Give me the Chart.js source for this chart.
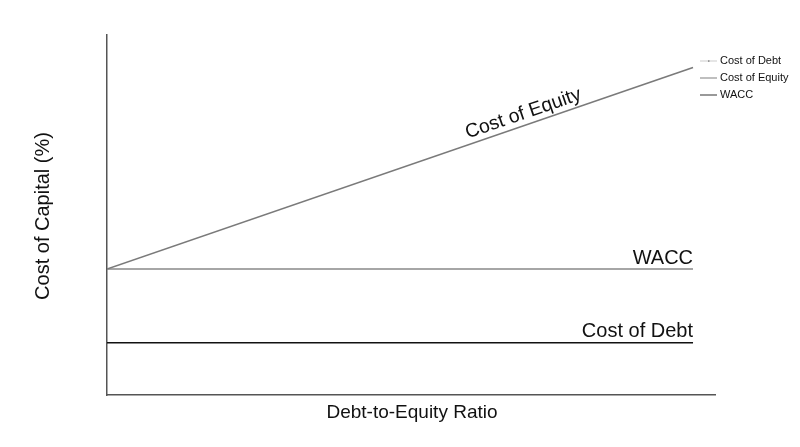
<!DOCTYPE html>
<html>
<head>
<meta charset="utf-8">
<script src="https://cdn.jsdelivr.net/npm/chart.js@4"></script>
<style>
  html, body { margin: 0; padding: 0; background: #fff; }
  #wrap { width: 800px; height: 447px; }
</style>
</head>
<body>
<div id="wrap"><canvas id="c"></canvas></div>
<script>
// Data
const debtToEquity = [0, 2];
const costOfDebt = [2.9, 2.9];
const costOfEquity = [7.0, 18.2];
const wacc = [7.0, 7.0];
const xMax = 2.075;
const yMax = 20;
const seriesNames = ['Cost of Debt', 'Cost of Equity', 'WACC'];

const FONT = '"Liberation Sans", Arial, sans-serif';

const pts = (ys) => debtToEquity.map((x, i) => ({ x: x, y: ys[i] }));

const annotate = {
  id: 'annotate',
  afterDatasetsDraw(chart) {
    const { ctx, scales: { x, y }, chartArea } = chart;
    ctx.save();
    ctx.fillStyle = '#111';
    ctx.font = '20px ' + FONT;
    ctx.textAlign = 'right';
    ctx.textBaseline = 'alphabetic';
    const xe = x.getPixelForValue(debtToEquity[debtToEquity.length - 1]);
    ctx.fillText('WACC', xe, y.getPixelForValue(wacc[1]) - 5);
    ctx.fillText('Cost of Debt', xe, y.getPixelForValue(costOfDebt[1]) - 6);
    // Cost of Equity label along line
    const x0 = x.getPixelForValue(debtToEquity[0]), y0 = y.getPixelForValue(costOfEquity[0]);
    const x1 = x.getPixelForValue(debtToEquity[1]), y1 = y.getPixelForValue(costOfEquity[1]);
    const ang = Math.atan2(y1 - y0, x1 - x0);
    const cx = 527;
    const t = (cx - x0) / (x1 - x0);
    const cy = y0 + t * (y1 - y0);
    ctx.translate(cx, cy);
    ctx.rotate(ang);
    ctx.textAlign = 'center';
    ctx.font = '19.5px ' + FONT;
    ctx.fillText('Cost of Equity', 0, -6);
    ctx.restore();

    // Axis titles
    ctx.save();
    ctx.fillStyle = '#111';
    ctx.font = '19px ' + FONT;
    ctx.textAlign = 'center';
    ctx.textBaseline = 'middle';
    ctx.fillText('Debt-to-Equity Ratio', 412, 413);
    ctx.translate(43, 216);
    ctx.rotate(-Math.PI / 2);
    ctx.font = '20px ' + FONT;
    ctx.fillText('Cost of Capital (%)', 0, 0);
    ctx.restore();

    // Legend
    ctx.save();
    ctx.font = '11px ' + FONT;
    ctx.textAlign = 'left';
    ctx.textBaseline = 'middle';
    const lx = 700, ly = [61, 78, 95];
    const legColors = ['#dcdcdc', '#aaaaaa', '#777777'];
    seriesNames.forEach((n, i) => {
      ctx.strokeStyle = legColors[i];
      ctx.lineWidth = 1.5;
      ctx.beginPath();
      ctx.moveTo(lx, ly[i]);
      ctx.lineTo(lx + 17, ly[i]);
      ctx.stroke();
      if (i === 0) {
        ctx.fillStyle = '#888';
        ctx.fillRect(lx + 8, ly[i] - 0.7, 1.5, 1.5);
      }
      ctx.fillStyle = '#111';
      ctx.fillText(n, lx + 20, ly[i]);
    });
    ctx.restore();
  }
};

new Chart(document.getElementById('c'), {
  type: 'line',
  data: {
    datasets: [
      { label: seriesNames[0], data: pts(costOfDebt), borderColor: '#111111', borderWidth: 1.6, pointRadius: 0, fill: false },
      { label: seriesNames[1], data: pts(costOfEquity), borderColor: '#7a7a7a', borderWidth: 1.6, pointRadius: 0, fill: false },
      { label: seriesNames[2], data: pts(wacc), borderColor: '#888888', borderWidth: 1.6, pointRadius: 0, fill: false }
    ]
  },
  options: {
    responsive: true,
    maintainAspectRatio: false,
    animation: false,
    layout: { padding: { left: 107, right: 85, top: 35, bottom: 52 } },
    plugins: { legend: { display: false }, tooltip: { enabled: false } },
    scales: {
      x: {
        type: 'linear', min: 0, max: xMax,
        ticks: { display: false },
        grid: { display: false, drawTicks: false },
        border: { display: true, color: '#555', width: 1.5 }
      },
      y: {
        type: 'linear', min: 0, max: yMax,
        ticks: { display: false },
        grid: { display: false, drawTicks: false },
        border: { display: true, color: '#555', width: 1.5 }
      }
    }
  },
  plugins: [annotate]
});
</script>
</body>
</html>
